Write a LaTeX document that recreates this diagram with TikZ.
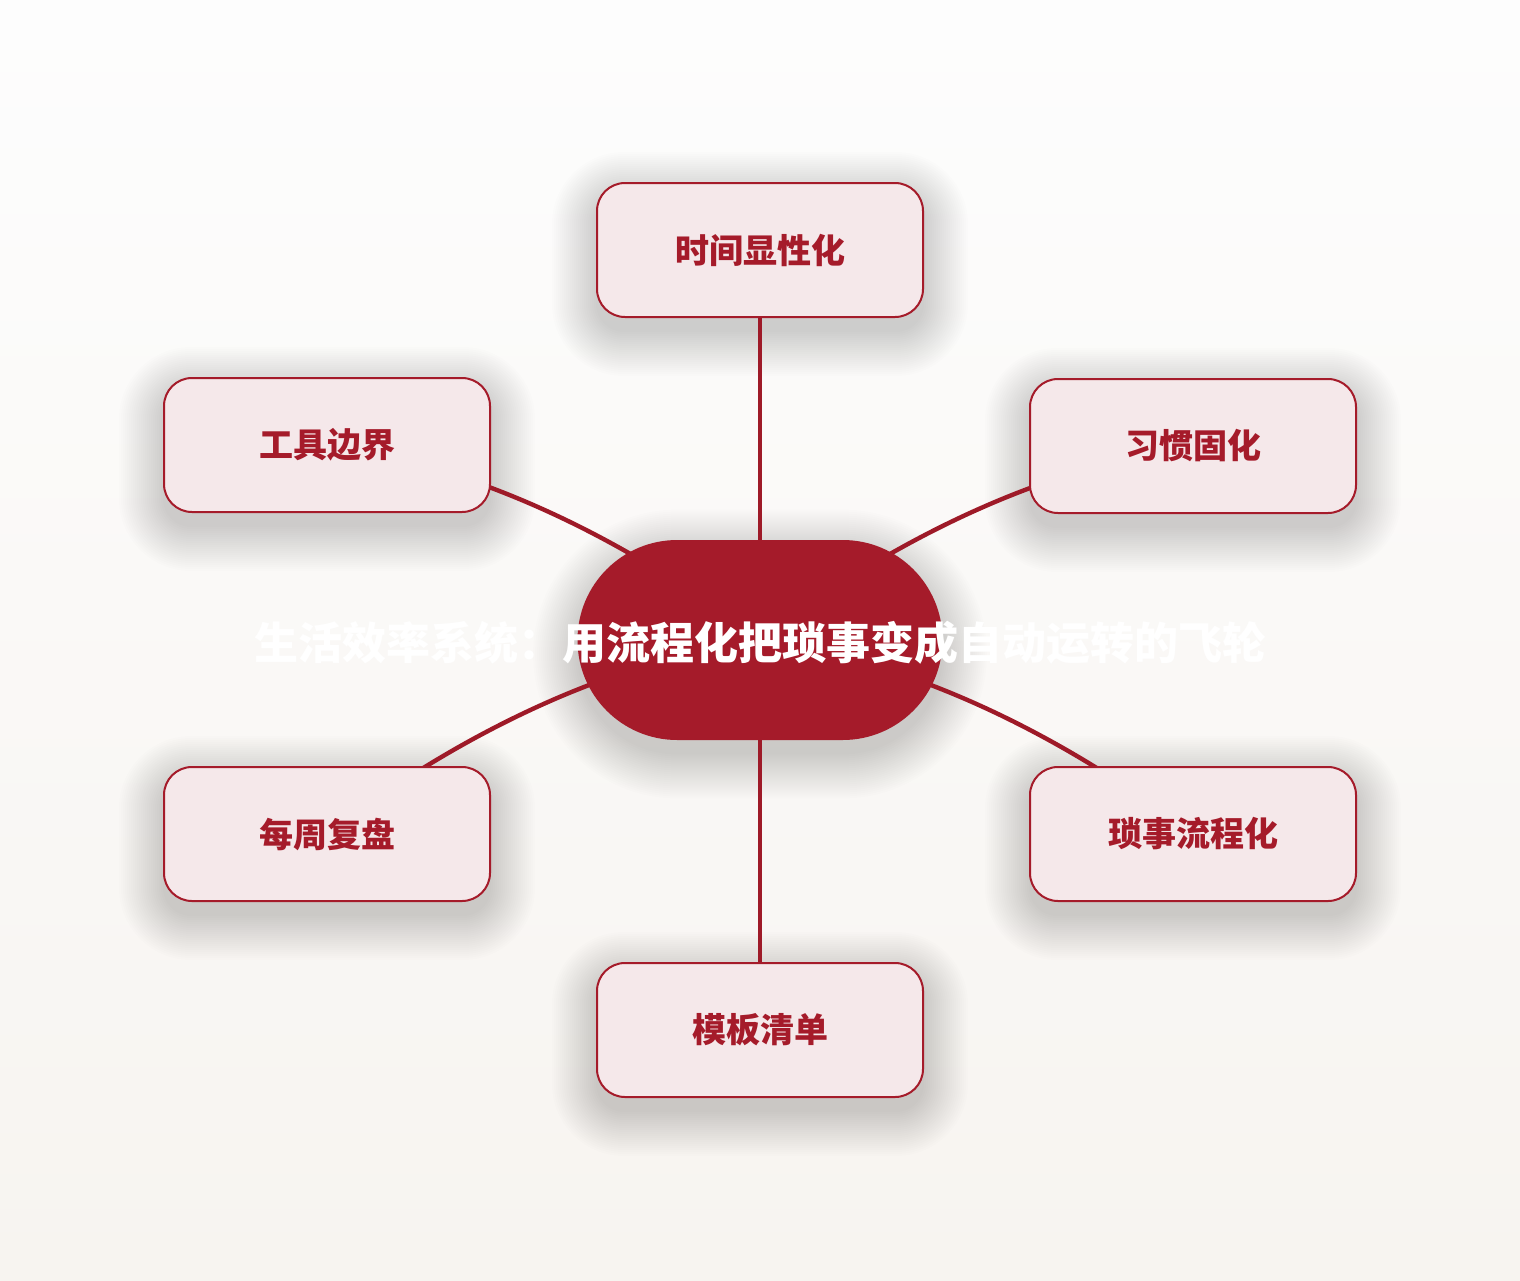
\documentclass[tikz,border=0pt]{standalone}
\usepackage{fontspec}
\setmainfont{Noto Sans CJK SC}
\usetikzlibrary{calc}
\definecolor{hubred}{HTML}{A51B2A}
\definecolor{edgered}{HTML}{9E1A28}
\definecolor{boxfill}{HTML}{F5E8EA}
\definecolor{bgtop}{HTML}{FDFDFD}
\definecolor{bgbot}{HTML}{F7F4F0}
\pgfdeclarelayer{bglayer}
\pgfdeclarelayer{shadowlayer}
\pgfdeclarelayer{edges}
\pgfsetlayers{bglayer,shadowlayer,edges,main}
\tikzset{
  sat/.style={draw=hubred, line width=1pt, fill=boxfill, rounded corners=14pt,
    minimum width=163pt, minimum height=67pt, inner sep=0pt,
    text=hubred, font=\fontsize{17pt}{20pt}\selectfont\bfseries},
  hub/.style={fill=hubred, rounded corners=49.9pt, minimum width=182.5pt, minimum height=100pt, inner sep=0pt},
  hubtxt/.style={text=white, font=\fontsize{22pt}{26pt}\selectfont\bfseries, inner sep=0pt},
  link/.style={draw=edgered, line width=2.2pt, line cap=round},
  shadowpiece/.style={fill=black, fill opacity=0.009, draw=none}
}
\newcommand{\softshadowfor}[2]{%
  \begin{pgfonlayer}{shadowlayer}
  \foreach \r in {0,2,...,44}{
    \fill[shadowpiece, rounded corners=#2pt+\r*0.5pt]
      ($(#1.south west)+(-\r,\r+14)$) rectangle ($(#1.north east)+(\r,-\r+14)$);
  }
  \end{pgfonlayer}}
\begin{document}
\begin{tikzpicture}[x=0.5pt,y=-0.5pt]
\begin{pgfonlayer}{bglayer}
\shade[top color=bgtop, bottom color=bgbot] (0,0) rectangle (1520,1280);
\end{pgfonlayer}
\useasboundingbox (0,0) rectangle (1520,1280);
\node[hub] (hub) at (760,640) {};
\node[hubtxt] (hubtext) at (760,643) {生活效率系统：用流程化把琐事变成自动运转的飞轮};
\node[sat] (top) at (760,250) {\raisebox{-1pt}{时间显性化}};
\node[sat] (ul) at (327,445) {\raisebox{-1pt}{工具边界}};
\node[sat] (ur) at (1193,446) {\raisebox{-1pt}{习惯固化}};
\node[sat] (ll) at (327,834) {\raisebox{-1pt}{每周复盘}};
\node[sat] (lr) at (1193,834) {\raisebox{-1pt}{琐事流程化}};
\node[sat] (bot) at (760,1030) {\raisebox{-1pt}{模板清单}};
\softshadowfor{hub}{49.9}
\softshadowfor{top}{14}
\softshadowfor{ul}{14}
\softshadowfor{ur}{14}
\softshadowfor{ll}{14}
\softshadowfor{lr}{14}
\softshadowfor{bot}{14}
\begin{pgfonlayer}{edges}
\draw[link] (top.center) -- (hub.center);
\draw[link] (hub.center) -- (bot.center);
\draw[link] (ul.center) .. controls ($(ul.center)!0.33!(hub.center)+(0,-44)$) and ($(ul.center)!0.67!(hub.center)+(0,-44)$) .. (hub.center);
\draw[link] (ur.center) .. controls ($(ur.center)!0.33!(hub.center)+(0,-44)$) and ($(ur.center)!0.67!(hub.center)+(0,-44)$) .. (hub.center);
\draw[link] (ll.center) .. controls ($(ll.center)!0.33!(hub.center)+(0,-44)$) and ($(ll.center)!0.67!(hub.center)+(0,-44)$) .. (hub.center);
\draw[link] (lr.center) .. controls ($(lr.center)!0.33!(hub.center)+(0,-44)$) and ($(lr.center)!0.67!(hub.center)+(0,-44)$) .. (hub.center);
\end{pgfonlayer}
\end{tikzpicture}
\end{document}
